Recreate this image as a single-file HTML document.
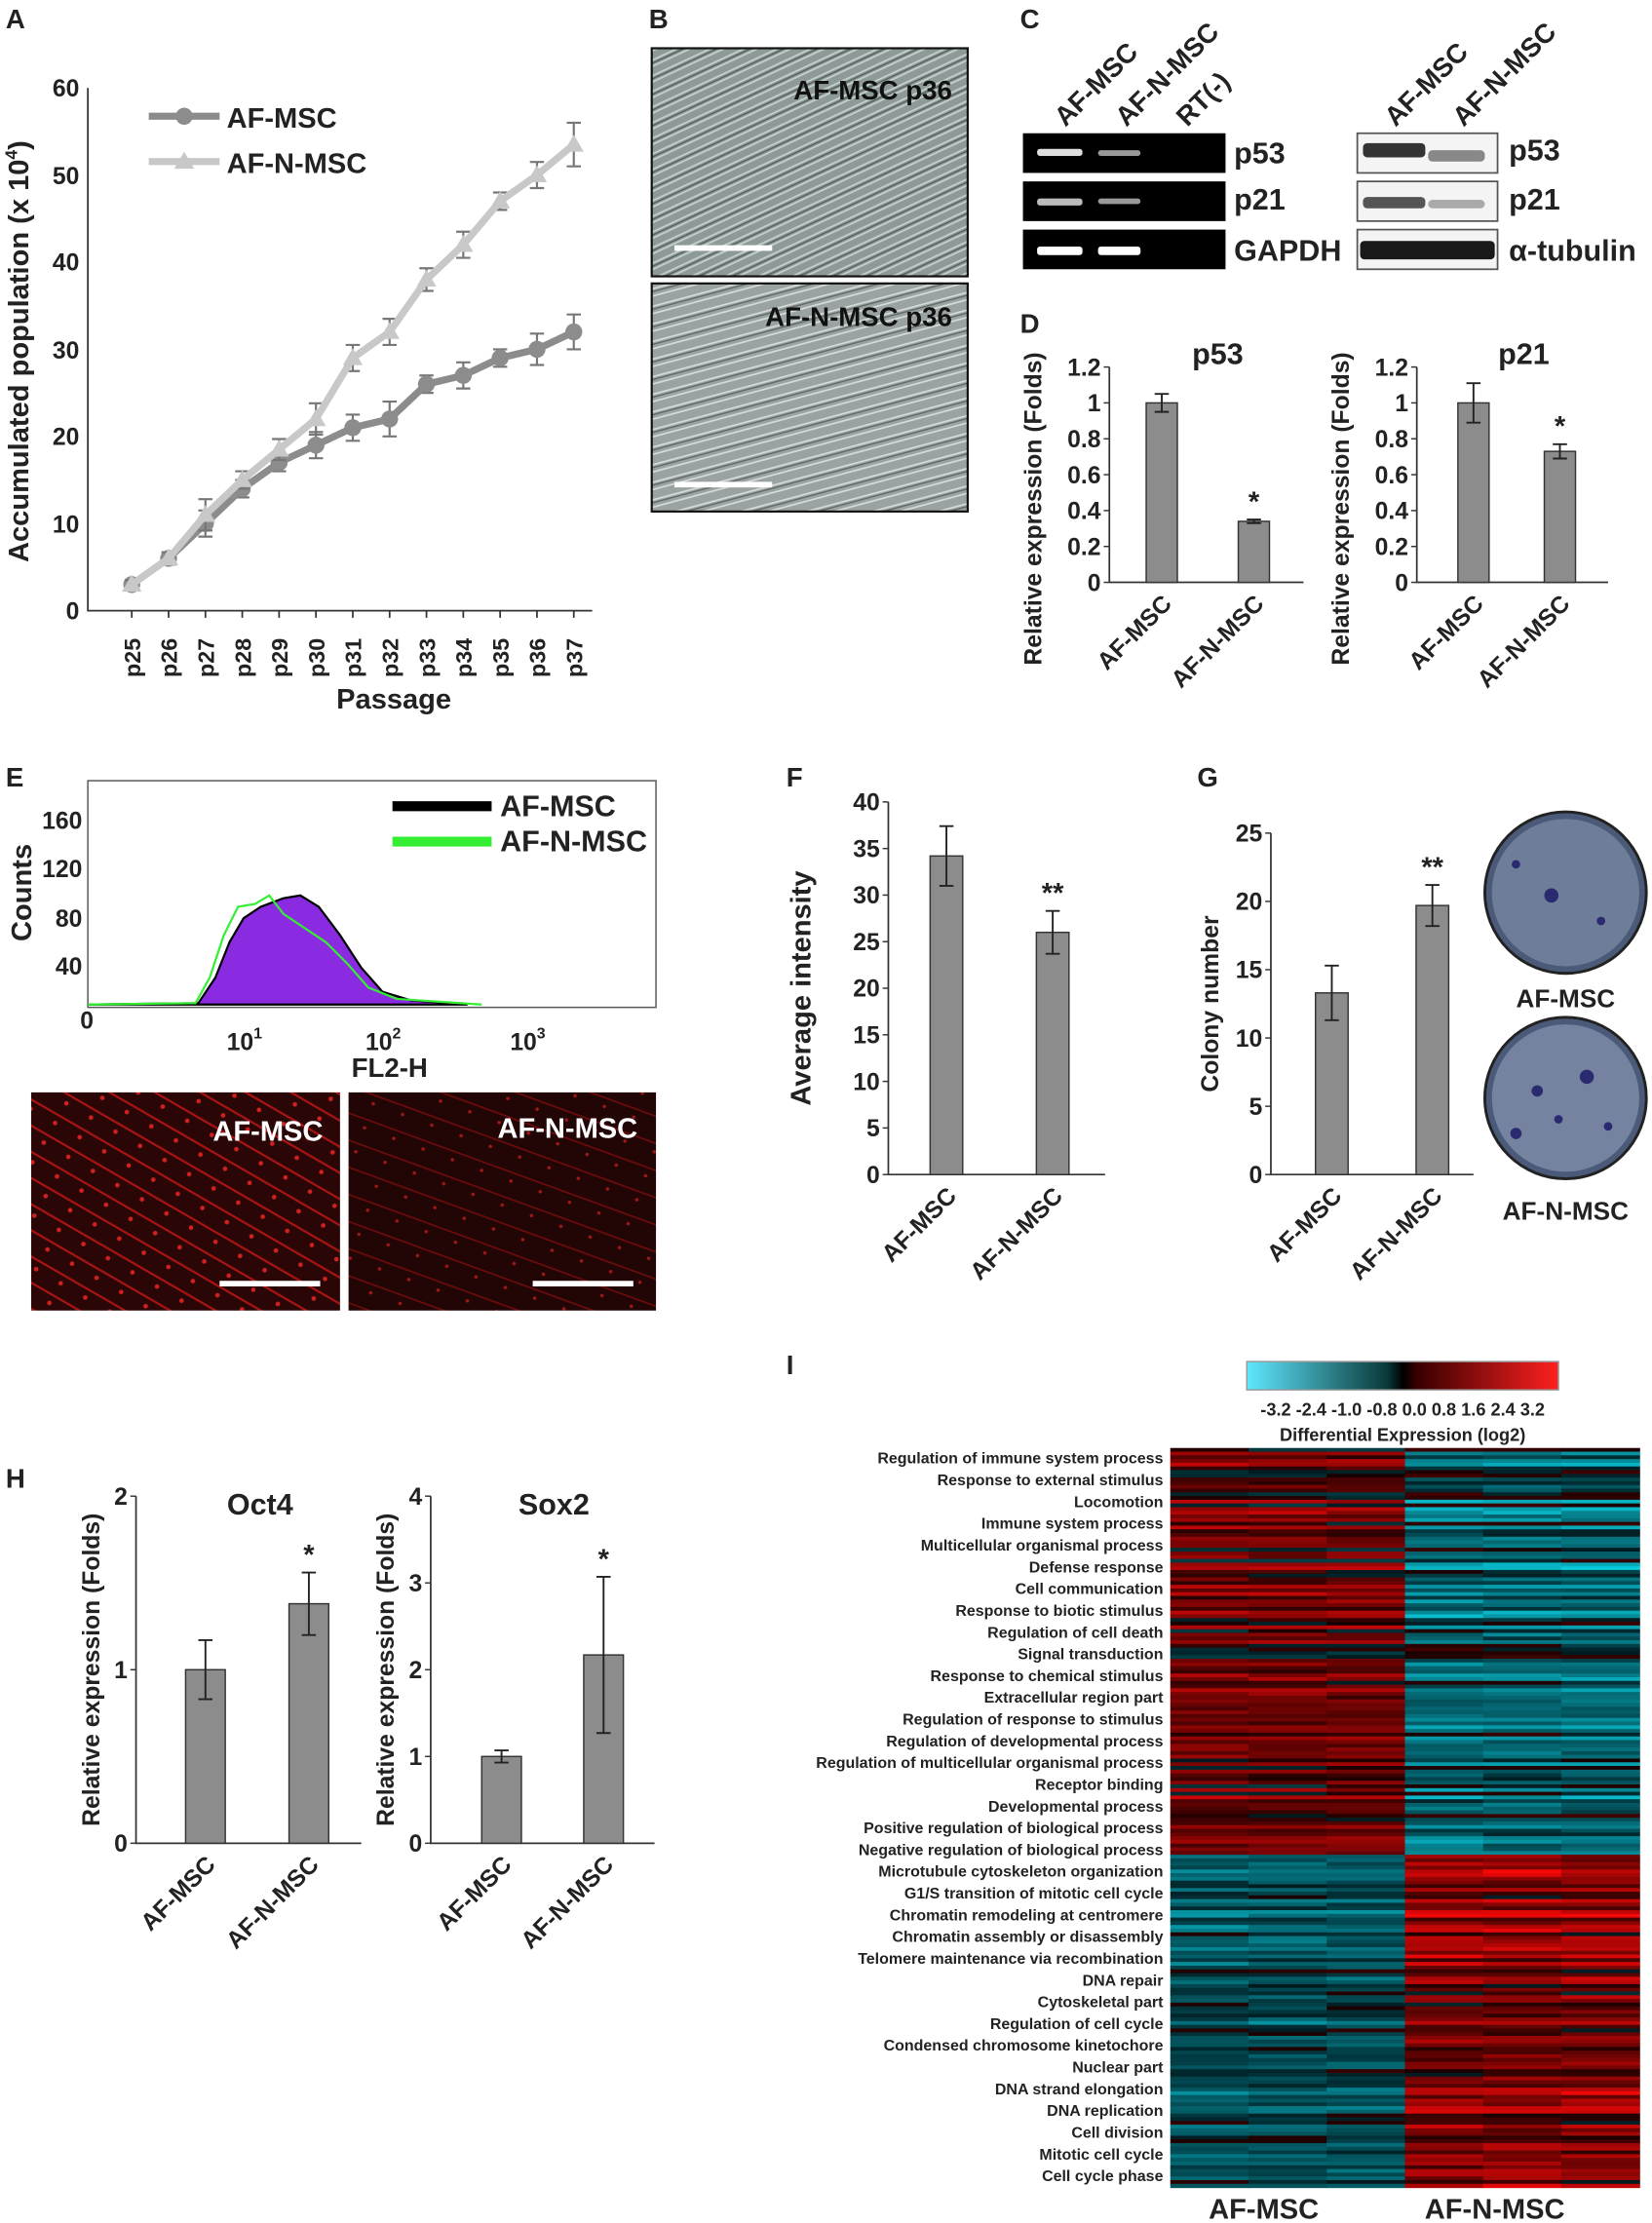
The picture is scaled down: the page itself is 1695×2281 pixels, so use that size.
<!DOCTYPE html>
<html><head><meta charset="utf-8"><style>
html,body{margin:0;padding:0;background:#fff}
svg{display:block}
text{font-family:"Liberation Sans",sans-serif;font-weight:bold}
</style></head><body>
<svg id="s" width="1695" height="2281" viewBox="0 0 1166 1569" xmlns="http://www.w3.org/2000/svg" fill="#222">
<defs>
<pattern id="cells" width="14" height="10" patternUnits="userSpaceOnUse" patternTransform="rotate(-25)">
<rect width="14" height="10" fill="#8d9a97"/><path d="M0 3h14M0 7h14" stroke="#c8d2d0" stroke-width="1.2"/><path d="M0 5h14" stroke="#4d5a58" stroke-width="0.8"/></pattern>
<pattern id="cells2" width="16" height="12" patternUnits="userSpaceOnUse" patternTransform="rotate(-15)">
<rect width="16" height="12" fill="#9aa3a2"/><path d="M0 4h16M0 9h16" stroke="#d5dbda" stroke-width="1.2"/><path d="M0 6h16" stroke="#59625f" stroke-width="0.8"/></pattern>
<pattern id="red" width="20" height="16" patternUnits="userSpaceOnUse" patternTransform="rotate(30)">
<rect width="20" height="16" fill="#2a0606"/><path d="M0 5h20" stroke="#a81414" stroke-width="1.5"/><circle cx="10" cy="11" r="1.6" fill="#d02020"/></pattern>
<pattern id="red2" width="22" height="18" patternUnits="userSpaceOnUse" patternTransform="rotate(20)">
<rect width="22" height="18" fill="#220505"/><path d="M0 6h22" stroke="#6a0c0c" stroke-width="1.2"/><circle cx="8" cy="12" r="1.2" fill="#a01818"/></pattern>
<linearGradient id="cb" x1="0" x2="1"><stop offset="0" stop-color="#5fe8ff"/><stop offset="0.45" stop-color="#0a3a3a"/><stop offset="0.5" stop-color="#000"/><stop offset="0.55" stop-color="#3a0000"/><stop offset="1" stop-color="#ff2020"/></linearGradient>
</defs>
<g font-size="19">
<text x="4" y="20">A</text><text x="458" y="20">B</text><text x="720" y="20">C</text>
<text x="720" y="235">D</text><text x="4" y="555">E</text><text x="555" y="555">F</text>
<text x="845" y="555">G</text><text x="4" y="1050">H</text><text x="555" y="970">I</text>
</g>

<g id="A" stroke="#333" stroke-width="1.2" fill="none">
<path d="M62 62V431H418"/>
</g>
<g font-size="17" text-anchor="end">
<text x="56" y="68">60</text><text x="56" y="130">50</text><text x="56" y="191">40</text><text x="56" y="253">30</text><text x="56" y="314">20</text><text x="56" y="376">10</text><text x="56" y="437">0</text>
</g>
<text font-size="20" transform="translate(20 248) rotate(-90)" text-anchor="middle">Accumulated population (x 10<tspan font-size="12" dy="-8">4</tspan><tspan dy="8">)</tspan></text>
<text x="278" y="500" font-size="20" text-anchor="middle">Passage</text>
<g id="Axl" font-size="16"></g>
<text x="160" y="90" font-size="20">AF-MSC</text><text x="160" y="122" font-size="20">AF-N-MSC</text>
<path d="M105 82H155" stroke="#8c8c8c" stroke-width="5"/><circle cx="130" cy="82" r="6" fill="#8c8c8c"/>
<path d="M105 114H155" stroke="#c8c8c8" stroke-width="5"/><path d="M130 107l7 12h-14z" fill="#c8c8c8"/>
<g id="Aplot"></g>

<rect x="460" y="34" width="223" height="161" fill="url(#cells)" stroke="#111" stroke-width="1.5"/>
<rect x="460" y="200" width="223" height="161" fill="url(#cells2)" stroke="#111" stroke-width="1.5"/>
<text x="672" y="70" font-size="19" text-anchor="end" fill="#111">AF-MSC p36</text>
<text x="672" y="230" font-size="19" text-anchor="end" fill="#111">AF-N-MSC p36</text>
<path d="M476 175H545M476 342H545" stroke="#fff" stroke-width="4"/>

<g font-size="19">
<text transform="translate(752 90) rotate(-45)">AF-MSC</text>
<text transform="translate(795 90) rotate(-45)">AF-N-MSC</text>
<text transform="translate(838 90) rotate(-45)">RT(-)</text>
<text transform="translate(985 90) rotate(-45)">AF-MSC</text>
<text transform="translate(1033 90) rotate(-45)">AF-N-MSC</text>
</g>
<rect x="722" y="94" width="143" height="28" fill="#000"/><rect x="722" y="128" width="143" height="28" fill="#000"/><rect x="722" y="162" width="143" height="28" fill="#000"/>
<g fill="#ddd"><rect x="732" y="105" width="32" height="5" rx="2"/><rect x="775" y="106" width="30" height="4" rx="2" fill="#999"/>
<rect x="732" y="140" width="32" height="5" rx="2" fill="#bbb"/><rect x="775" y="140" width="30" height="4" rx="2" fill="#999"/>
<rect x="732" y="174" width="32" height="6" rx="2" fill="#fff"/><rect x="775" y="174" width="30" height="6" rx="2" fill="#fff"/></g>
<g font-size="21"><text x="871" y="115">p53</text><text x="871" y="148">p21</text><text x="871" y="184">GAPDH</text>
<text x="1065" y="113">p53</text><text x="1065" y="148">p21</text><text x="1065" y="184">α-tubulin</text></g>
<g stroke="#555" stroke-width="1.2"><rect x="958" y="94" width="99" height="28" fill="#f4f4f4"/><rect x="958" y="128" width="99" height="28" fill="#f4f4f4"/><rect x="958" y="162" width="99" height="28" fill="#f4f4f4"/></g>
<rect x="962" y="101" width="44" height="10" fill="#333" rx="3"/><rect x="1008" y="106" width="40" height="8" fill="#888" rx="3"/>
<rect x="962" y="139" width="44" height="8" fill="#555" rx="3"/><rect x="1008" y="141" width="40" height="6" fill="#aaa" rx="3"/>
<rect x="960" y="170" width="95" height="13" fill="#1a1a1a" rx="3"/>

<rect x="62" y="551" width="401" height="160" fill="none" stroke="#555" stroke-width="1"/>
<g font-size="17" text-anchor="end"><text x="58" y="585">160</text><text x="58" y="619">120</text><text x="58" y="654">80</text><text x="58" y="688">40</text><text x="66" y="726">0</text></g>
<text font-size="20" transform="translate(22 630) rotate(-90)" text-anchor="middle">Counts</text>
<g font-size="17"><text x="160" y="741">10<tspan font-size="11" dy="-8">1</tspan></text><text x="258" y="741">10<tspan font-size="11" dy="-8">2</tspan></text><text x="360" y="741">10<tspan font-size="11" dy="-8">3</tspan></text></g>
<text x="275" y="760" font-size="19" text-anchor="middle">FL2-H</text>
<path d="M277 569H347" stroke="#000" stroke-width="7"/><path d="M277 594H347" stroke="#33ee33" stroke-width="7"/>
<text x="353" y="576" font-size="21">AF-MSC</text><text x="353" y="601" font-size="21">AF-N-MSC</text>
<path d="M62 709 L140 708 L152 690 L162 665 L172 648 L184 640 L200 634 L212 632 L225 640 L240 660 L255 683 L270 700 L290 706 L330 709Z" fill="#8a2be2" stroke="#000" stroke-width="1.5"/>
<path d="M62 709 L138 708 L148 690 L158 660 L168 640 L180 638 L190 632 L200 645 L215 655 L230 665 L245 680 L260 697 L280 705 L340 709" fill="none" stroke="#33ee33" stroke-width="1.5"/>
<rect x="22" y="771" width="218" height="154" fill="url(#red)"/>
<rect x="246" y="771" width="217" height="154" fill="url(#red2)"/>
<text x="228" y="805" font-size="20" text-anchor="end" style="fill:#fff">AF-MSC</text>
<text x="450" y="803" font-size="20" text-anchor="end" style="fill:#fff">AF-N-MSC</text>
<path d="M155 906H226M376 906H447" stroke="#fff" stroke-width="4"/>

<g id="bars"></g>

<circle cx="1105" cy="630" r="57" fill="#4a5a78" stroke="#222" stroke-width="2"/><circle cx="1105" cy="630" r="52" fill="#6e7d98"/>
<circle cx="1105" cy="775" r="57" fill="#4a5a78" stroke="#222" stroke-width="2"/><circle cx="1105" cy="775" r="52" fill="#7583a0"/>
<circle cx="1095" cy="632" r="5" fill="#2a2a70"/><circle cx="1070" cy="610" r="3" fill="#2a2a70"/><circle cx="1130" cy="650" r="3" fill="#2a2a70"/>
<circle cx="1085" cy="770" r="4" fill="#2a2a70"/><circle cx="1120" cy="760" r="5" fill="#2a2a70"/><circle cx="1100" cy="790" r="3" fill="#2a2a70"/><circle cx="1070" cy="800" r="4" fill="#2a2a70"/><circle cx="1135" cy="795" r="3" fill="#2a2a70"/>
<text x="1105" y="711" font-size="18" text-anchor="middle">AF-MSC</text>
<text x="1105" y="861" font-size="18" text-anchor="middle">AF-N-MSC</text>

<rect x="880" y="961" width="220" height="20" fill="url(#cb)" stroke="#999"/>
<text x="990" y="999" font-size="12.5" text-anchor="middle">-3.2 -2.4 -1.0 -0.8 0.0  0.8  1.6  2.4  3.2</text>
<text x="990" y="1017" font-size="12.5" text-anchor="middle">Differential Expression (log2)</text>
<g id="hm"></g>
<g id="hl" font-size="11" text-anchor="end"></g>
<text x="892" y="1566" font-size="20" text-anchor="middle">AF-MSC</text>
<text x="1055" y="1566" font-size="20" text-anchor="middle">AF-N-MSC</text>
</svg>
<script>
(function(){
const NS="http://www.w3.org/2000/svg";
function el(p,t,a,txt){const e=document.createElementNS(NS,t);for(const k in a)e.setAttribute(k,a[k]);if(txt!=null)e.textContent=txt;document.getElementById(p).appendChild(e);return e;}
const a1=[3,6,10,14,17,19,21,22,26,27,29,30,32],a2=[3,6,11,15,18.5,22,29,32,38,42,47,50,53.5];
const e1=[0.5,0.7,1.5,1,1,1.5,1.5,2,1,1.5,1,1.8,2],e2=[0.5,0.7,1.8,1,1.2,1.8,1.5,1.5,1.3,1.5,1,1.5,2.5];
const X=i=>93+i*26,Y=v=>431-v*6.15;
for(let i=0;i<13;i++){el("Axl","text",{transform:`translate(${X(i)+6} 478) rotate(-90)`},"p"+(25+i));el("A","path",{d:`M${X(i)} 431v5`});}
function series(d,e,c,tri){let p=d.map((v,i)=>(i?"L":"M")+X(i)+" "+Y(v)).join("");
for(let i=0;i<13;i++){el("Aplot","path",{d:`M${X(i)} ${Y(d[i]-e[i])}V${Y(d[i]+e[i])}M${X(i)-5} ${Y(d[i]-e[i])}h10M${X(i)-5} ${Y(d[i]+e[i])}h10`,stroke:"#777","stroke-width":1.5});}
el("Aplot","path",{d:p,stroke:c,"stroke-width":5,fill:"none"});
for(let i=0;i<13;i++){if(tri)el("Aplot","path",{d:`M${X(i)} ${Y(d[i])-7}l7 12h-14z`,fill:c});else el("Aplot","circle",{cx:X(i),cy:Y(d[i]),r:6,fill:c});}}
series(a1,e1,"#8c8c8c",0);series(a2,e2,"#c8c8c8",1);
function chart(o){const g="bars";const y0=o.y0,y1=o.y1,ax=o.ax;
el(g,"path",{d:`M${ax} ${y1}V${y0}H${o.xe}`,stroke:"#333","stroke-width":1.2,fill:"none"});
o.ticks.forEach((t,i)=>{const y=y0-(y0-y1)*t/o.max;el(g,"text",{x:ax-6,y:y+6,"font-size":17,"text-anchor":"end"},o.tl[i]);el(g,"path",{d:`M${ax-4} ${y}h4`,stroke:"#333"});});
o.bars.forEach((b,i)=>{const cx=o.cx[i],tp=y0-(y0-y1)*b[0]/o.max,eh=(y0-y1)*b[1]/o.max;
el(g,"rect",{x:cx-o.w/2,y:tp,width:o.w,height:y0-tp,fill:"#8c8c8c",stroke:"#333","stroke-width":1});
el(g,"path",{d:`M${cx} ${tp-eh}V${tp+eh}M${cx-5} ${tp-eh}h10M${cx-5} ${tp+eh}h10`,stroke:"#222","stroke-width":1.3});
el(g,"text",{transform:`translate(${cx+8} ${y0+16}) rotate(-45)`,"font-size":17,"text-anchor":"end"},i?"AF-N-MSC":"AF-MSC");
if(o.star&&i)el(g,"text",{x:cx,y:tp-eh-6,"font-size":20,"text-anchor":"middle"},o.star);});
el(g,"text",{transform:`translate(${o.yl} ${(y0+y1)/2+(o.yo||0)}) rotate(-90)`,"font-size":o.fs||17,"text-anchor":"middle"},o.ylab);
if(o.title)el(g,"text",{x:(ax+o.xe)/2+8,y:y1-2+(o.td||0),"font-size":21,"text-anchor":"middle"},o.title);}
const RE="Relative expression (Folds)";
chart({ax:783,xe:920,y0:411,y1:259,max:1.2,ticks:[0,.2,.4,.6,.8,1,1.2],tl:["0","0.2","0.4","0.6","0.8","1","1.2"],bars:[[1,.05],[.34,.01]],cx:[820,885],w:22,star:"*",yl:735,yo:24,ylab:RE,title:"p53"});
chart({ax:1000,xe:1135,y0:411,y1:259,max:1.2,ticks:[0,.2,.4,.6,.8,1,1.2],tl:["0","0.2","0.4","0.6","0.8","1","1.2"],bars:[[1,.11],[.73,.04]],cx:[1040,1101],w:22,star:"*",yl:952,yo:24,ylab:RE,title:"p21"});
chart({ax:627,xe:780,y0:829,y1:566,max:40,ticks:[0,5,10,15,20,25,30,35,40],tl:["0","5","10","15","20","25","30","35","40"],bars:[[34.2,3.2],[26,2.3]],cx:[668,743],w:23,star:"**",yl:572,ylab:"Average intensity",fs:20});
chart({ax:897,xe:1040,y0:829,y1:588,max:25,ticks:[0,5,10,15,20,25],tl:["0","5","10","15","20","25"],bars:[[13.3,2],[19.7,1.5]],cx:[940,1011],w:23,star:"**",yl:860,ylab:"Colony number"});
chart({ax:96,xe:255,y0:1301,y1:1056,max:2,ticks:[0,1,2],tl:["0","1","2"],bars:[[1,.17],[1.38,.18]],cx:[145,218],w:28,star:"*",yl:70,ylab:RE,title:"Oct4",td:15});
chart({ax:304,xe:462,y0:1301,y1:1056,max:4,ticks:[0,1,2,3,4],tl:["0","1","2","3","4"],bars:[[1,.07],[2.17,.9]],cx:[354,426],w:28,star:"*",yl:278,ylab:RE,title:"Sox2",td:15});
let seed=7;const rnd=()=>(seed=(seed*16807)%2147483647)/2147483647;
function col(v){v=Math.max(-1,Math.min(1,v));if(v>=0){return `rgb(${Math.round(25+230*v)},${Math.round(8*v)},${Math.round(8*v)})`;}v=-v;return `rgb(${Math.round(10*v)},${Math.round(25+200*v)},${Math.round(30+215*v)})`;}
const hTop=1022,hBot=1544,rows=200,rh=(hBot-hTop)/rows;
for(let r=0;r<rows;r++){const y=hTop+r*rh;const f=r/rows;const up=f<0.55;
const base=(up?0.35:-0.28)+(rnd()-0.5)*(up?0.9:0.6);
for(let c=0;c<6;c++){let v;if(c<3)v=base+(rnd()-0.5)*0.35;else v=-(base*(up?1.1:1.7))+(rnd()-0.5)*0.35;
el("hm","rect",{x:826+c*55.2,y:y,width:55.6,height:rh+0.4,fill:col(v*0.85)});}}
const labs=["Regulation of immune system process","Response to external stimulus","Locomotion","Immune system process","Multicellular organismal process","Defense response","Cell communication","Response to biotic stimulus","Regulation of cell death","Signal transduction","Response to chemical stimulus","Extracellular region part","Regulation of response to stimulus","Regulation of developmental process","Regulation of multicellular organismal process","Receptor binding","Developmental process","Positive regulation of biological process","Negative regulation of biological process","Microtubule cytoskeleton organization","G1/S transition of mitotic cell cycle","Chromatin remodeling at centromere","Chromatin assembly or disassembly","Telomere maintenance via recombination","DNA repair","Cytoskeletal part","Regulation of cell cycle","Condensed chromosome kinetochore","Nuclear part","DNA strand elongation","DNA replication","Cell division","Mitotic cell cycle","Cell cycle phase"];
labs.forEach((t,i)=>el("hl","text",{x:821,y:1033+i*15.35},t));
})();
</script>
</body></html>
